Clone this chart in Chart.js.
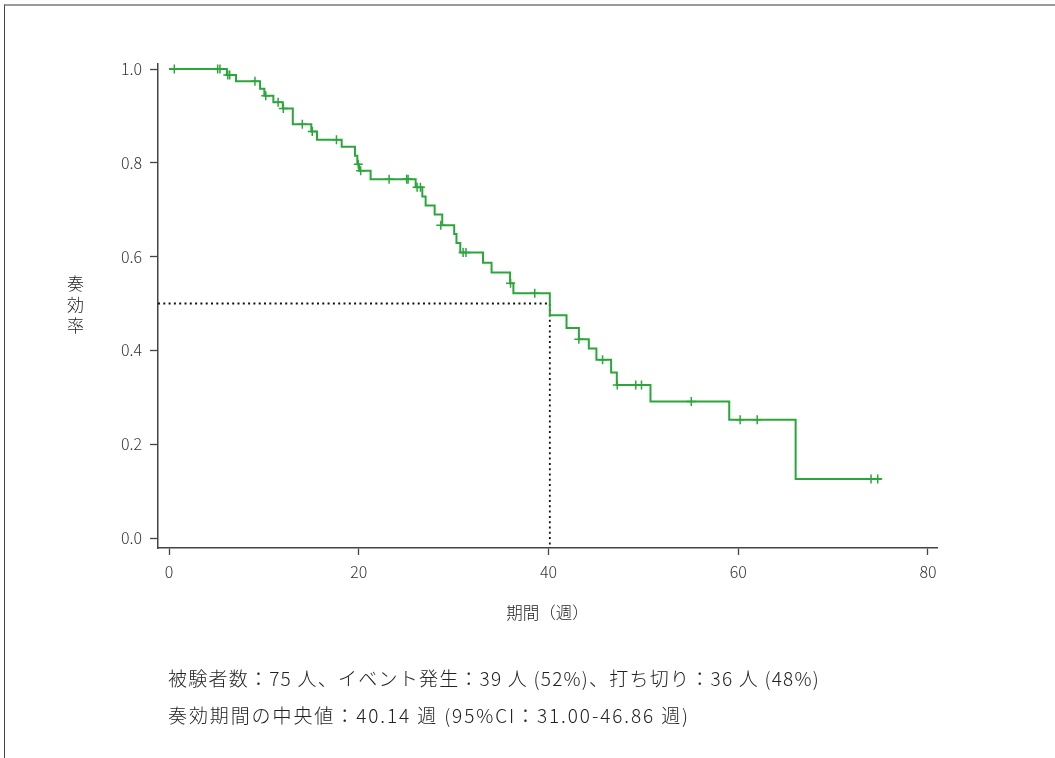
<!DOCTYPE html>
<html>
<head>
<meta charset="utf-8">
<script src="https://cdn.jsdelivr.net/npm/chart.js@4.4.0/dist/chart.umd.min.js"></script>
<style>
  body { margin: 0; background: #fff; }
  #wrap { position: relative; width: 1055px; height: 758px; overflow: hidden; }
  #frame { position: absolute; left: 4px; top: 4px; right: -4px; bottom: -4px;
           border-top: 2px solid #9a9a9a; border-left: 1px solid #444; }
  canvas { position: absolute; left: 0; top: 0; }
  .ytitle { position: absolute; left: 63px; top: 275px; writing-mode: vertical-rl;
            text-orientation: upright; font: 300 17px "Noto Sans CJK JP"; color: #222; letter-spacing: 4px; }
  .note { position: absolute; left: 168px; font: 300 19px "Noto Sans CJK JP"; color: #222; white-space: nowrap; }
</style>
</head>
<body>
<div id="wrap">
  <div id="frame"></div>
  <canvas id="km" width="1055" height="758"></canvas>
  <div class="ytitle">奏効率</div>
  <div class="note" id="note1" style="top:664px">被験者数：75 人、イベント発生：39 人 (52%)、打ち切り：36 人 (48%)</div>
  <div class="note" id="note2" style="top:701px">奏効期間の中央値：40.14 週 (95%CI：31.00-46.86 週)</div>
</div>
<script>
// Kaplan-Meier steps: time (weeks) where each level starts, and the level
const stepTimes = [0, 6.1, 7.06, 9.6, 10.05, 11.0, 12.0, 13.05, 15.0, 15.6, 18.2, 19.6, 19.85, 20.05,
  21.25, 26.0, 26.7, 27.05, 28.0, 28.8, 30.06, 30.3, 30.7, 33.1, 34.0, 35.95, 36.3, 40.14,
  41.9, 43.2, 44.25, 45.05, 46.6, 47.2, 50.75, 59.05, 66.05, 75.1]
const stepSurv = [1.0, 0.987, 0.974, 0.958, 0.943, 0.929, 0.916, 0.882, 0.867, 0.849, 0.834, 0.815, 0.797, 0.783,
  0.765, 0.748, 0.728, 0.709, 0.690, 0.667, 0.648, 0.629, 0.609, 0.587, 0.566, 0.543, 0.522, 0.475,
  0.448, 0.424, 0.404, 0.380, 0.353, 0.326, 0.291, 0.252, 0.126, 0.126]

// censored observations (+ marks)
const censorTimes = [0.56, 5.13, 5.37, 6.2, 6.4, 9.06, 10.2, 11.5, 12.05, 14.05, 15.1, 17.65, 19.95, 20.2,
  23.2, 25.05, 25.2, 26.15, 26.5, 28.65, 31.0, 31.3, 36.0, 38.55, 43.2, 45.7, 47.25, 49.2, 49.8,
  55.05, 60.2, 62.0, 74.0, 74.7]
const censorSurv = [1.0, 1.0, 1.0, 0.987, 0.987, 0.974, 0.943, 0.929, 0.916, 0.882, 0.867, 0.849, 0.797, 0.783,
  0.765, 0.765, 0.765, 0.748, 0.748, 0.667, 0.609, 0.609, 0.543, 0.522, 0.424, 0.380, 0.326, 0.326, 0.326,
  0.291, 0.252, 0.252, 0.126, 0.126]

const medianWeeks = 40.14
const xTicks = [0, 20, 40, 60, 80]
const yTicks = [0, 0.2, 0.4, 0.6, 0.8, 1.0]

const xMin = -1.16, xMax = 80.95
const yMin = -0.0213, yMax = 1.0107

const fontFamily = '"Noto Sans CJK JP", "Noto Sans", sans-serif'
const green = '#2aa63a'

let curve = stepTimes.map((t, i) => ({ x: t, y: stepSurv[i] }))
let censors = censorTimes.map((t, i) => ({ x: t, y: censorSurv[i] }))
let median = [{ x: xMin, y: 0.5 }, { x: medianWeeks, y: 0.5 }, { x: medianWeeks, y: yMin }]

new Chart('km', {
  type: 'line',
  data: {
    datasets: [
      {
        data: censors,
        showLine: false,
        pointStyle: 'cross',
        pointRadius: 4.5,
        borderColor: green,
        borderWidth: 1.5,
        order: 0
      },
      {
        data: curve,
        stepped: true,
        borderColor: green,
        borderWidth: 2,
        pointRadius: 0,
        order: 1
      },
      {
        data: median,
        borderColor: '#111',
        borderWidth: 1.8,
        borderDash: [2, 3.3],
        pointRadius: 0,
        clip: false,
        order: 2
      }
    ]
  },
  options: {
    responsive: false,
    animation: false,
    devicePixelRatio: 1,
    layout: { padding: { left: 0, top: 64, right: 118, bottom: 135 } },
    plugins: { legend: { display: false }, tooltip: { enabled: false } },
    scales: {
      x: {
        type: 'linear',
        min: xMin,
        max: xMax,
        afterBuildTicks: s => { s.ticks = xTicks.map(v => ({ value: v })) },
        afterFit: s => { s.height = 75 },
        grid: { drawOnChartArea: false, drawTicks: true, tickLength: 7, tickWidth: 1.3, tickColor: '#444' },
        border: { color: '#444', width: 1.5 },
        ticks: { color: '#333', font: { size: 16, family: fontFamily, weight: 300 }, padding: 7, maxRotation: 0,
          callback: v => String(v) },
        title: { display: true, text: '期間（週）', color: '#222',
          font: { size: 16.5, family: fontFamily, weight: 300 }, padding: 0 }
      },
      y: {
        type: 'linear',
        min: yMin,
        max: yMax,
        afterBuildTicks: s => { s.ticks = yTicks.map(v => ({ value: v })) },
        afterFit: s => { s.width = 158 },
        grid: { drawOnChartArea: false, drawTicks: true, tickLength: 8, tickWidth: 1.3, tickColor: '#444' },
        border: { color: '#444', width: 1.5 },
        ticks: { color: '#333', font: { size: 16, family: fontFamily, weight: 300 }, padding: 8,
          callback: v => v.toFixed(1) }
      }
    }
  }
})

// Spread the footnote lines to the width they have in the original
function fitWidth(id, target) {
  let el = document.getElementById(id)
  let n = el.textContent.length
  let w = el.getBoundingClientRect().width
  el.style.letterSpacing = ((target - w) / n) + 'px'
}
fitWidth('note1', 652)
fitWidth('note2', 522)
</script>
</body>
</html>
